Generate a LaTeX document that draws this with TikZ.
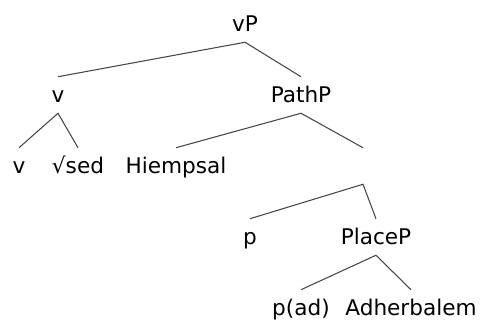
\documentclass[tikz,border=0pt]{standalone}
\usepackage{fontspec}
\setmainfont{DejaVu Sans}
\begin{document}
\begin{tikzpicture}[x=0.75pt,y=-0.75pt,
  lbl/.style={inner sep=0pt,anchor=base,font=\fontsize{16.2}{19}\selectfont,
              text height=19.5pt,text depth=7.5pt},
  branch/.style={draw=black!72,line width=0.8pt}]
\useasboundingbox (0,0) rectangle (480,323);
% row 1
\node[lbl] (vP) at (245,32) {vP};
% row 2
\node[lbl] (v) at (58,103) {v};
\node[lbl] (PathP) at (301,103) {PathP};
% row 3
\node[lbl] (v0) at (19,174) {v};
\node[lbl] (sed) at (78,174) {√sed};
\node[lbl] (Hiempsal) at (176,174) {Hiempsal};
\node[lbl] (pbar) at (363,174) {};
% row 4
\node[lbl] (p) at (250,245) {p};
\node[lbl] (PlaceP) at (376,245) {PlaceP};
% row 5
\node[lbl] (pad) at (301,316) {p(ad)};
\node[lbl] (Adherbalem) at (411,316) {Adherbalem};
% branches
\draw[branch] (v0.north) -- (v.south) -- (sed.north);
\draw[branch] (v.north) -- (vP.south) -- (PathP.north);
\draw[branch] (Hiempsal.north) -- (PathP.south) -- (pbar.north);
\draw[branch] (p.north) -- (pbar.south) -- (PlaceP.north);
\draw[branch] (pad.north) -- (PlaceP.south) -- (Adherbalem.north);
\end{tikzpicture}
\end{document}
